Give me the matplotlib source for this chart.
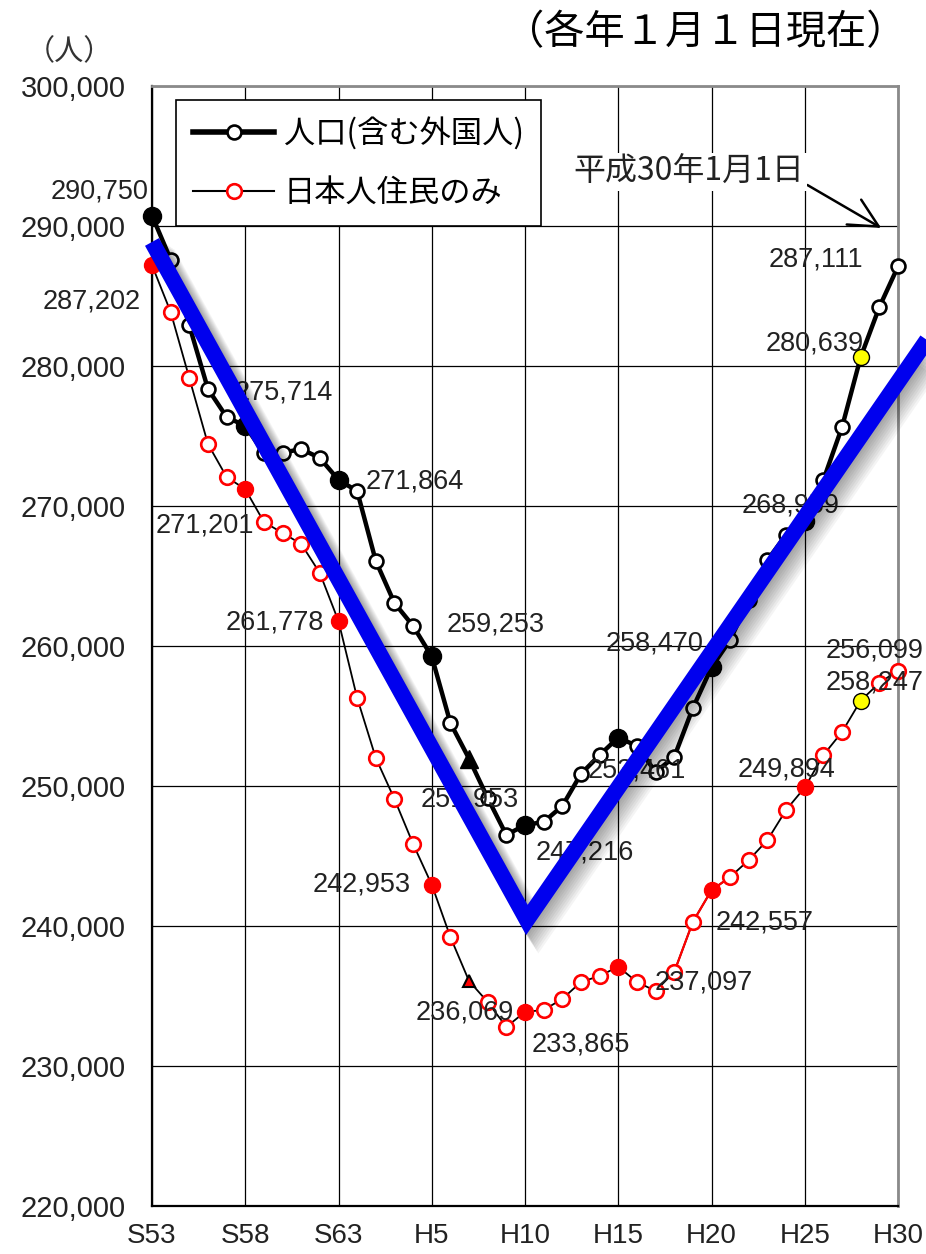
"""Population trend chart: total (incl. foreigners) vs Japanese residents, S53-H30."""

import matplotlib
matplotlib.use("Agg")
import matplotlib.pyplot as plt
import matplotlib.patheffects as pe
from matplotlib.lines import Line2D
import numpy as np

plt.rcParams["font.family"] = ["Liberation Sans", "Noto Sans CJK JP", "DejaVu Sans"]

# ---- data (1 Jan of each year, S53 .. H30) ----
tick_labels = ["S53", "S58", "S63", "H5", "H10", "H15", "H20", "H25", "H30"]
total = [290750, 287600, 282900, 278360, 276360, 275714, 273790, 273800, 274070,
         273430, 271864, 271070, 266070, 263070, 261430, 259253, 254500, 251953,
         249140, 246500, 247216, 247430, 248570, 250860, 252210, 253461, 252860,
         251000, 252070, 255570, 258470, 260430, 263290, 266140, 267930, 268959,
         271860, 275640, 280639, 284210, 287111]
japanese = [287202, 283860, 279140, 274430, 272070, 271201, 268860, 268070, 267290,
            265210, 261778, 256290, 252000, 249070, 245860, 242953, 239210, 236069,
            234570, 232790, 233865, 234000, 234790, 236000, 236430, 237097, 236000,
            235360, 236710, 240290, 242557, 243500, 244710, 246140, 248290, 249894,
            252210, 253860, 256099, 257360, 258247]
filled_idx = [0, 5, 10, 15, 20, 25, 30, 35]   # every 5 years
triangle_idx = [17]
yellow_idx = [38]
red_seg = (28, 31)                              # stretch drawn in red
labeled_idx = [0, 5, 10, 15, 17, 20, 25, 30, 35, 38, 40]

# hand-drawn V overlay
trend_x = [0.0, 20.1, 42.5]
trend_y = [288860, 240430, 283680]

# label offsets (pixels, x right / y up) per labeled point
total_off = {0: (-52, 24), 5: (38, 34), 10: (76, -2), 15: (64, 32), 17: (1, -41),
             20: (60, -28), 25: (19, -33), 30: (-57, 24), 35: (-14, 15),
             38: (-46, 14), 40: (-82, 7)}
jp_off = {0: (-60, -36), 5: (-40, -36), 10: (-64, -1), 15: (-70, 0), 17: (-4, -31),
          20: (56, -33), 25: (86, -16), 30: (53, -32), 35: (-18, 18),
          38: (-35, 50), 40: (-72, -12)}

x = np.arange(len(total))
tot = np.array(total)
jp = np.array(japanese)

fig = plt.figure(figsize=(9.26, 12.54), dpi=100)
ax = fig.add_axes([152 / 926, 1 - 1206 / 1254, 746 / 926, 1120 / 1254])
ax.set_xlim(0, 40)
ax.set_ylim(220000, 300000)

ax.set_xticks(np.arange(0, 41, 5))
ax.set_xticklabels(tick_labels)
ax.set_yticks(np.arange(220000, 300001, 10000))
ax.set_yticklabels([f"{v:,}" for v in range(220000, 300001, 10000)])
ax.tick_params(axis="both", length=0, labelsize=20, colors="#222222")
ax.tick_params(axis="y", pad=19, labelsize=21)
ax.tick_params(axis="x", pad=12)
ax.grid(True, color="black", lw=0.9)
ax.set_axisbelow(True)
for side in ("top", "right"):
    ax.spines[side].set_color("#8a8a8a")
    ax.spines[side].set_linewidth(2)
for side in ("left", "bottom"):
    ax.spines[side].set_color("black")
    ax.spines[side].set_linewidth(1.6)

# ---- Japanese residents only ----
ax.plot(x, jp, color="black", lw=1.3, zorder=3)
a, b = red_seg
ax.plot(x[a:b + 1], jp[a:b + 1], color="red", lw=1.6, zorder=3)
open_jp = [i for i in x if i not in filled_idx + triangle_idx + yellow_idx]
ax.plot(x[open_jp], jp[open_jp], ls="none", marker="o", ms=10.5, mfc="white",
        mec="red", mew=1.9, zorder=4, clip_on=False)
ax.plot(x[filled_idx], jp[filled_idx], ls="none", marker="o", ms=11.5, mfc="red",
        mec="red", zorder=4, clip_on=False)
ax.plot(x[triangle_idx], jp[triangle_idx], ls="none", marker="^", ms=9, mfc="red",
        mec="black", mew=1.5, zorder=4)
ax.plot(x[yellow_idx], jp[yellow_idx], ls="none", marker="o", ms=11.5, mfc="yellow",
        mec="black", mew=1.0, zorder=6)

# ---- total population ----
ax.plot(x, tot, color="black", lw=3.2, zorder=3)
open_t = [i for i in x if i not in filled_idx + triangle_idx + yellow_idx]
ax.plot(x[open_t], tot[open_t], ls="none", marker="o", ms=10, mfc="white",
        mec="black", mew=1.9, zorder=4, clip_on=False)
ax.plot(x[filled_idx], tot[filled_idx], ls="none", marker="o", ms=13, mfc="black",
        mec="black", zorder=4, clip_on=False)
ax.plot(x[triangle_idx], tot[triangle_idx], ls="none", marker="^", ms=13,
        mfc="black", mec="black", zorder=4)
ax.plot(x[yellow_idx], tot[yellow_idx], ls="none", marker="o", ms=11.5, mfc="yellow",
        mec="black", mew=1.0, zorder=6)

# ---- data labels ----
for series, offs in ((tot, total_off), (jp, jp_off)):
    for i in labeled_idx:
        dx, dy = offs[i]
        ha = "center"
        if series is jp and i in (38, 40):
            ha = "left"
        ax.annotate(f"{series[i]:,}", (x[i], series[i]), xytext=(dx, dy),
                    textcoords="offset pixels", ha=ha, va="center",
                    fontsize=19.5, color="#222222", zorder=5, annotation_clip=False)

# ---- blue V overlay with soft shadow ----
shadow = [pe.SimpleLineShadow(offset=(o, -o), shadow_color="black", alpha=0.045,
                              linewidth=11.5 + o * 0.5) for o in range(1, 10)]
ax.plot(trend_x, trend_y, color="#0000ee", lw=11.5, solid_joinstyle="miter",
        solid_capstyle="butt", zorder=7, clip_on=False,
        path_effects=shadow + [pe.Normal()])

# ---- legend ----
handles = [
    Line2D([], [], color="black", lw=4, marker="o", ms=10, mfc="white", mec="black",
           mew=1.9),
    Line2D([], [], color="black", lw=1.5, marker="o", ms=10.5, mfc="white", mec="red",
           mew=1.9),
]
leg = ax.legend(handles, ["人口(含む外国人)", "日本人住民のみ"], loc="upper left",
                bbox_to_anchor=(0.032, 0.9875), borderaxespad=0, fancybox=False,
                framealpha=1, edgecolor="black", handlelength=2.6,
                labelspacing=0.85, borderpad=0.55, handletextpad=0.3,
                prop={"family": ["Noto Sans CJK JP"], "size": 22.5})
leg.get_frame().set_linewidth(1.2)
leg.set_zorder(8)

# ---- annotation for latest date ----
ax.annotate("平成30年1月1日", xy=(39.1, 289860), xytext=(-77, 56),
            textcoords="offset pixels", ha="right", va="center", fontsize=23,
            family=["Noto Sans CJK JP"], color="#222222",
            bbox=dict(boxstyle="square,pad=0.1", fc="white", ec="none"),
            arrowprops=dict(arrowstyle="->,head_length=0.9,head_width=0.45",
                            color="black", lw=1.8, relpos=(1.0, 0.15),
                            shrinkA=0, shrinkB=0),
            zorder=6)

fig.text(906 / 926, 1 - 33 / 1254, "（各年１月１日現在）", ha="right", va="center",
         fontsize=29, family=["Noto Sans CJK JP"], color="black")
fig.text(69 / 926, 1 - 52 / 1254, "（人）", ha="center", va="center",
         fontsize=21, family=["Noto Sans CJK JP"], color="#333333")

fig.savefig("out.png", dpi=100)
